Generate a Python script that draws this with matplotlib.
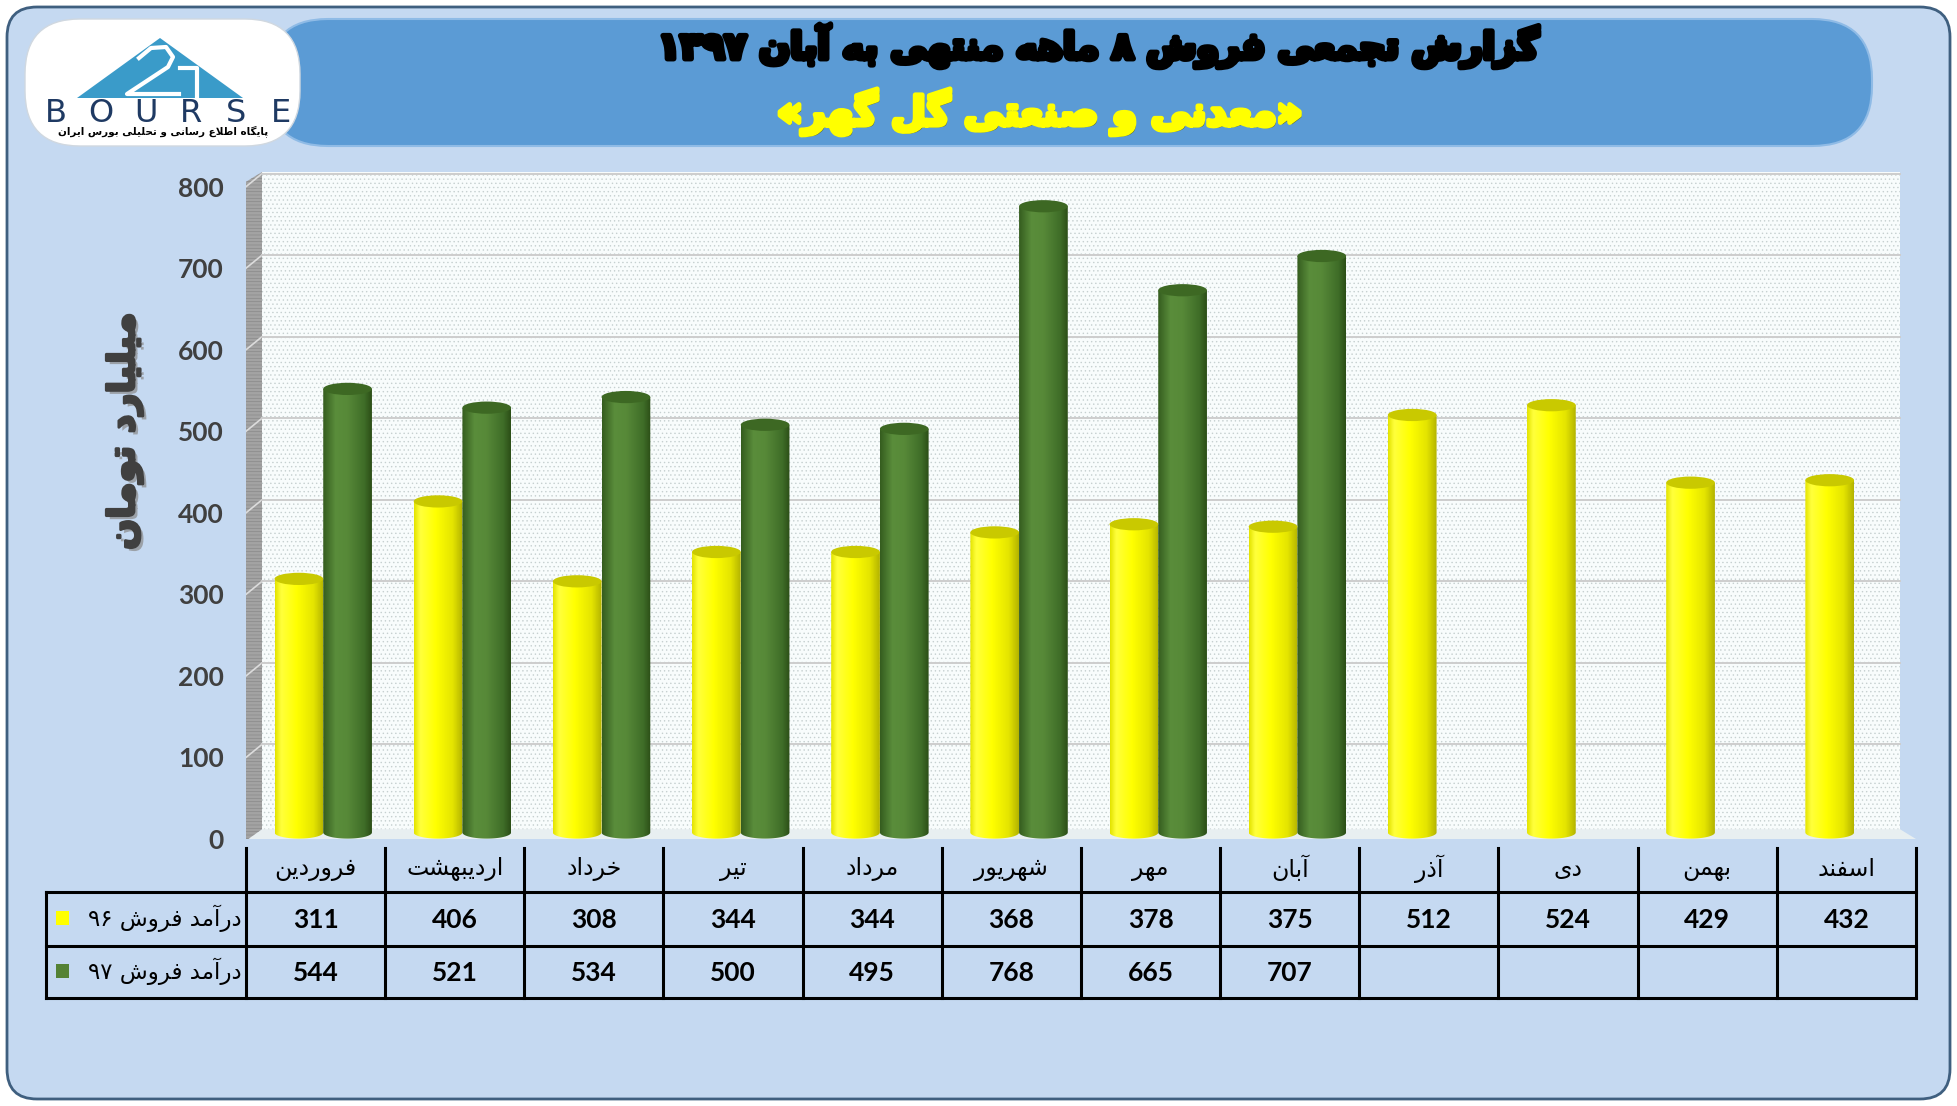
import re
import numpy as np
import matplotlib
matplotlib.use('Agg')
import matplotlib.pyplot as plt
from matplotlib.patches import FancyBboxPatch, Rectangle, Ellipse, Polygon, PathPatch
from matplotlib.path import Path
from matplotlib.colors import LinearSegmentedColormap
import matplotlib.patheffects as pe

# data
months = ['فروردین', 'اردیبهشت', 'خرداد', 'تیر', 'مرداد', 'شهریور',
          'مهر', 'آبان', 'آذر', 'دی', 'بهمن', 'اسفند']
sales_96 = [311, 406, 308, 344, 344, 368, 378, 375, 512, 524, 429, 432]
sales_97 = [544, 521, 534, 500, 495, 768, 665, 707]
y_ticks = [0, 100, 200, 300, 400, 500, 600, 700, 800]

title = 'گزارش تجمعی فروش ۸ ماهه منتهی به آبان ۱۳۹۷'
subtitle = '«معدنی و صنعتی گل گهر»'
y_label = 'میلیارد تومان'
row_labels = ['درآمد فروش ۹۶', 'درآمد فروش ۹۷']
logo_sub = 'پایگاه اطلاع رسانی و تحلیلی بورس ایران'

plt.rcParams['font.family'] = ['DejaVu Sans']

# --- simple arabic/persian shaping (matplotlib has no text shaping) ---
_two = {'ا': (0xFE8D, 0xFE8E), 'آ': (0xFE81, 0xFE82), 'د': (0xFEA9, 0xFEAA),
        'ذ': (0xFEAB, 0xFEAC), 'ر': (0xFEAD, 0xFEAE), 'ز': (0xFEAF, 0xFEB0),
        'ژ': (0xFB8A, 0xFB8B), 'و': (0xFEED, 0xFEEE)}
_four = {'ب': 0xFE8F, 'ت': 0xFE95, 'ث': 0xFE99, 'ج': 0xFE9D, 'ح': 0xFEA1,
         'خ': 0xFEA5, 'س': 0xFEB1, 'ش': 0xFEB5, 'ص': 0xFEB9, 'ض': 0xFEBD,
         'ط': 0xFEC1, 'ظ': 0xFEC5, 'ع': 0xFEC9, 'غ': 0xFECD, 'ف': 0xFED1,
         'ق': 0xFED5, 'ل': 0xFEDD, 'م': 0xFEE1, 'ن': 0xFEE5, 'ه': 0xFEE9,
         'ی': 0xFBFC, 'ک': 0xFB8E, 'گ': 0xFB92, 'پ': 0xFB56, 'چ': 0xFB7A}
FORMS = {k: tuple(chr(c) for c in v) for k, v in _two.items()}
FORMS.update({k: tuple(chr(v + i) for i in range(4)) for k, v in _four.items()})


def shape(s):
    out = []
    i = 0
    while i < len(s):
        c = s[i]
        prev = s[i - 1] if i > 0 else ''
        jp = prev in FORMS and len(FORMS[prev]) == 4
        nxt = s[i + 1] if i + 1 < len(s) else ''
        if c == 'ل' and nxt in ('ا', 'آ'):
            lig = (0xFEFB, 0xFEFC) if nxt == 'ا' else (0xFEF5, 0xFEF6)
            out.append(chr(lig[1] if jp else lig[0]))
            i += 2
            continue
        f = FORMS.get(c)
        if f is None:
            out.append(c)
        else:
            jn = len(f) == 4 and nxt in FORMS
            idx = 3 if (jp and jn) else 1 if jp else 2 if jn else 0
            out.append(f[idx])
        i += 1
    vis = ''.join(out)[::-1]
    vis = re.sub(r'[0-9\u06F0-\u06F9]+', lambda m: m.group(0)[::-1], vis)
    return vis.translate(str.maketrans('«»', '»«'))


W, H = 1957, 1106
fig = plt.figure(figsize=(W / 100, H / 100), dpi=100)
fig.patch.set_facecolor('white')

# background layer in pixel units
bg = fig.add_axes([0, 0, 1, 1])
bg.set_xlim(0, W)
bg.set_ylim(H, 0)
bg.axis('off')
bg.add_patch(FancyBboxPatch((7, 7), W - 14, H - 14, boxstyle='round,pad=0,rounding_size=30',
                            fc='#c5d9f1', ec='#3f5f7f', lw=2))
bg.add_patch(FancyBboxPatch((268, 19), 1604, 127, boxstyle='round,pad=0,rounding_size=60',
                            fc='#5b9bd5', ec='#8fbbe6', lw=1.5))

# logo
bg.add_patch(FancyBboxPatch((25, 19), 275, 127, boxstyle='round,pad=0,rounding_size=55',
                            fc='white', ec='#d0d8e0', lw=1))
bg.add_patch(Polygon([(77, 98), (160, 38), (243, 98)], closed=True, fc='#3a9bc9', ec='none'))
bg.plot([139, 151, 166, 173, 168, 127, 179], [58, 48, 47, 57, 67, 94, 94], color='white', lw=3)
bg.plot([180, 197, 197], [68, 68, 98], color='white', lw=3)
for k, ch in enumerate('BOURSE'):
    bg.text(56 + k * 45, 113, ch, ha='center', va='center', fontsize=23, color='#1f3a63')
bg.text(163, 131, shape(logo_sub), ha='center', va='center', fontsize=7.5, weight='bold', color='black')

renderer = fig.canvas.get_renderer()


def fit(t, target, vertical=False):
    bb = t.get_window_extent(renderer)
    size = bb.height if vertical else bb.width
    t.set_fontsize(t.get_fontsize() * target / size)


t1 = bg.text(1098, 46, shape(title), ha='center', va='center', fontsize=30, weight='bold',
             color='black', path_effects=[pe.withStroke(linewidth=4, foreground='black')])
fit(t1, 880)
t2 = bg.text(1040, 112, shape(subtitle), ha='center', va='center', fontsize=30, weight='bold',
             color='#ffff00',
             path_effects=[pe.SimplePatchShadow(offset=(1.5, -1.5), shadow_rgbFace='#5a5a00', alpha=0.8),
                           pe.Stroke(linewidth=3.5, foreground='#ffff00'), pe.Normal()])
fit(t2, 525)
t3 = bg.text(125, 431, shape(y_label), rotation=90, ha='center', va='center', fontsize=26,
             weight='bold', color='#404040',
             path_effects=[pe.SimplePatchShadow(offset=(2.5, -2.5), shadow_rgbFace='#8a8a8a', alpha=0.7),
                           pe.Stroke(linewidth=2, foreground='#404040'), pe.Normal()])
fit(t3, 237, vertical=True)

# --- chart ---
ax = fig.add_axes([246 / W, 1 - 839 / H, (1916 - 246) / W, (839 - 172) / H])
ax.patch.set_alpha(0)
for s in ax.spines.values():
    s.set_visible(False)

x0, x1 = -0.385, 11.385
depth = 8
plt.rcParams['hatch.linewidth'] = 0.5
ax.add_patch(Rectangle((x0, 0), x1 - x0, 818, fc='#f8fcfc', ec='#c6d0d0', hatch='....', lw=0, zorder=0))
ax.add_patch(Polygon([(-0.5, 0), (11.5, 0), (x1, 12), (x0, 12)], closed=True,
                     fc='#e8eff1', ec='none', zorder=0.5))
ax.add_patch(Polygon([(-0.5, -2), (x0, 12), (x0, 818), (-0.5, 806)], closed=True,
                     fc='#a3a3a3', ec='#8a8a8a', hatch='-----', lw=0, zorder=0.6))
for v in y_ticks[1:]:
    ax.plot([-0.5, x0], [v, v + 16], color='#dcdcdc', lw=1.2, zorder=0.7)
    ax.plot([x0, x1], [v + 16, v + 16], color='#cdcdcd', lw=1.4, zorder=0.7)

yellow = LinearSegmentedColormap.from_list('y', [(0, '#e4e400'), (0.12, '#ffff3c'), (0.45, '#ffff00'),
                                                  (0.8, '#e4e400'), (1, '#b4b400')])
green = LinearSegmentedColormap.from_list('g', [(0, '#355d1f'), (0.25, '#5a8d3b'), (0.5, '#578938'),
                                                 (0.85, '#3f6d28'), (1, '#2c4f17')])
grad = np.linspace(0, 1, 64).reshape(1, -1)


def cylinder(rect, cmap, cap_color, cap_h=15):
    xa, w = rect.get_x(), rect.get_width()
    yb, h = rect.get_y(), rect.get_y() + rect.get_height()
    xc = xa + w / 2
    t = np.linspace(np.pi, 2 * np.pi, 40)
    bottom = np.column_stack([xc + w / 2 * np.cos(t), yb + cap_h / 2 * np.sin(t)])
    verts = np.vstack([[xa, h], bottom, [xa + w, h], [xa, h]])
    clip = PathPatch(Path(verts), transform=ax.transData, fc='none', ec='none')
    ax.add_patch(clip)
    im = ax.imshow(grad, cmap=cmap, extent=(xa, xa + w, yb - cap_h / 2, h), aspect='auto',
                   zorder=3, interpolation='bilinear')
    im.set_clip_path(clip)
    ax.add_patch(Ellipse((xc, h), w, cap_h, fc=cap_color, ec='none', zorder=4))
    rect.set_visible(False)


width = 0.35
bars_96 = ax.bar(np.arange(len(sales_96)) - 0.12, sales_96, width, bottom=depth, color='#ffff00')
bars_97 = ax.bar(np.arange(len(sales_97)) + 0.23, sales_97, width, bottom=depth, color='#548235')
for r in bars_96:
    cylinder(r, yellow, '#c9c900')
for r in bars_97:
    cylinder(r, green, '#3d6823')

ax.set_xlim(-0.5, 11.5)
ax.set_ylim(0, 818)
ax.set_xticks([])
ax.set_yticks(y_ticks)
ax.set_yticklabels([str(v) for v in y_ticks], fontsize=19, fontweight='bold', family='Lato')
ax.tick_params(axis='y', length=0, pad=16, labelcolor='#404040')

# --- data table under the chart ---
tb = fig.add_axes([46 / W, 1 - 1000 / H, (1916 - 46) / W, (1000 - 845) / H])
left = -0.5 - 200 / 139.17
tb.set_xlim(left, 11.5)
tb.set_ylim(1000, 845)
tb.axis('off')
for k in range(len(months) + 1):
    tb.plot([k - 0.5, k - 0.5], [848, 998], color='black', lw=2.2, clip_on=False)
tb.plot([left, left], [892, 998], color='black', lw=2.2, clip_on=False)
for yy in (892, 946, 998):
    tb.plot([left, 11.5], [yy, yy], color='black', lw=2.2, clip_on=False)

for i, m in enumerate(months):
    tb.text(i, 869, shape(m), ha='center', va='center', fontsize=17)
for i, v in enumerate(sales_96):
    tb.text(i, 920, str(v), ha='center', va='center', fontsize=19, weight='bold', family='Lato')
for i, v in enumerate(sales_97):
    tb.text(i, 973, str(v), ha='center', va='center', fontsize=19, weight='bold', family='Lato')
for yy, lab, col in zip((918, 971), row_labels, ('#ffff00', '#548235')):
    tb.text(-0.53, yy, shape(lab), ha='right', va='center', fontsize=16.5)
    tb.add_patch(Rectangle((left + 0.07, yy - 7), 0.095, 14, fc=col, ec='none'))

fig.savefig('out.png', dpi=100)
